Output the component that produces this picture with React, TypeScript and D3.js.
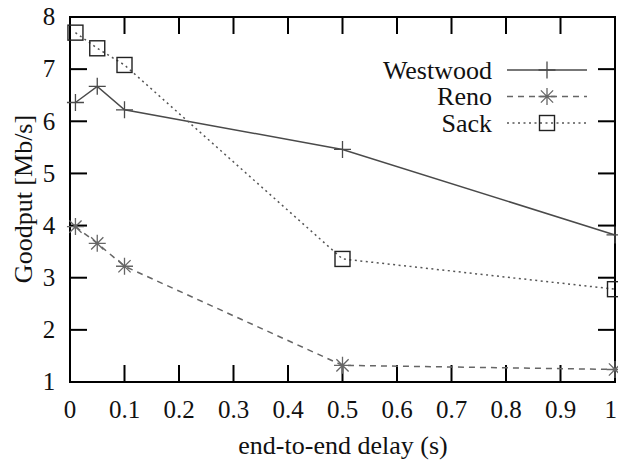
import React, { useRef, useEffect } from 'react';
import * as d3 from 'd3';

// delay (s) sampled for every protocol
const delays = [0.01, 0.05, 0.1, 0.5, 1.0];
const westwood = [6.36, 6.67, 6.22, 5.46, 3.82];
const reno = [3.98, 3.66, 3.22, 1.32, 1.24];
const sack = [7.7, 7.4, 7.08, 3.36, 2.78];

const xTicks = [0, 0.1, 0.2, 0.3, 0.4, 0.5, 0.6, 0.7, 0.8, 0.9, 1];
const yTicks = [1, 2, 3, 4, 5, 6, 7, 8];

const series = [
  { name: 'Westwood', values: westwood, marker: 'plus', dash: null, color: '#4a4a4a' },
  { name: 'Reno', values: reno, marker: 'star', dash: '6,5', color: '#666' },
  { name: 'Sack', values: sack, marker: 'square', dash: '2,3.5', color: '#555' },
];

function App() {
  const ref = useRef<SVGSVGElement>(null);

  const width = 618;
  const height = 461;
  const m = { left: 70, right: 3, top: 17, bottom: 79 };

  useEffect(() => {
    if (!ref.current) return;
    const svg = d3.select(ref.current);
    svg.selectAll('*').remove();

    const x = d3.scaleLinear().domain([0, 1]).range([m.left, width - m.right]);
    const y = d3.scaleLinear().domain([1, 8]).range([height - m.bottom, m.top]);
    const font = 'Liberation Serif';
    const tickLen = 17;

    const g = svg.append('g');

    const label = (tx: number, ty: number, str: string, size: number, anchor: string) =>
      g.append('text').attr('x', tx).attr('y', ty)
        .attr('font-family', font).attr('font-size', size)
        .attr('text-anchor', anchor).attr('fill', '#111')
        .text(str);

    // ticks, mirrored on all four sides, pointing inward
    xTicks.forEach(t => {
      g.append('line').attr('x1', x(t)).attr('x2', x(t))
        .attr('y1', y(1)).attr('y2', y(1) - tickLen)
        .attr('stroke', '#000').attr('stroke-width', 2);
      g.append('line').attr('x1', x(t)).attr('x2', x(t))
        .attr('y1', y(8)).attr('y2', y(8) + tickLen)
        .attr('stroke', '#000').attr('stroke-width', 2);
      label(t === 1 ? width - 1 : x(t), 418, String(t), 25, t === 1 ? 'end' : 'middle');
    });
    yTicks.forEach(t => {
      g.append('line').attr('x1', x(0)).attr('x2', x(0) + tickLen)
        .attr('y1', y(t)).attr('y2', y(t))
        .attr('stroke', '#000').attr('stroke-width', 2);
      g.append('line').attr('x1', x(1)).attr('x2', x(1) - tickLen)
        .attr('y1', y(t)).attr('y2', y(t))
        .attr('stroke', '#000').attr('stroke-width', 2);
      label(x(0) - 21, y(t), String(t), 25, 'middle').attr('dy', '0.33em');
    });

    g.append('rect')
      .attr('x', x(0)).attr('y', y(8))
      .attr('width', x(1) - x(0)).attr('height', y(1) - y(8))
      .attr('fill', 'none').attr('stroke', '#000').attr('stroke-width', 2);

    // axis titles
    label(343, 454, 'end-to-end delay (s)', 26, 'middle');
    label(0, 0, 'Goodput [Mb/s]', 26, 'middle')
      .attr('transform', 'translate(32, 199) rotate(-90)');

    const drawMarker = (sel: any, kind: string, cx: number, cy: number, color: string) => {
      if (kind === 'plus') {
        const s = 8.5;
        sel.append('path').attr('d', `M${cx - s},${cy}H${cx + s}M${cx},${cy - s}V${cy + s}`)
          .attr('stroke', color).attr('stroke-width', 1.3).attr('fill', 'none');
      } else if (kind === 'star') {
        const s = 8.5;
        const d = s * 0.72;
        sel.append('path')
          .attr('d', `M${cx - s},${cy}H${cx + s}M${cx},${cy - s}V${cy + s}` +
            `M${cx - d},${cy - d}L${cx + d},${cy + d}M${cx - d},${cy + d}L${cx + d},${cy - d}`)
          .attr('stroke', color).attr('stroke-width', 1.3).attr('fill', 'none');
      } else {
        const s = 7.5;
        sel.append('rect').attr('x', cx - s).attr('y', cy - s)
          .attr('width', 2 * s).attr('height', 2 * s)
          .attr('fill', 'none').attr('stroke', '#222').attr('stroke-width', 1.4);
      }
    };

    const line = d3.line<number>()
      .x((_, i) => x(delays[i]))
      .y(d => y(d));

    series.forEach(s => {
      const p = g.append('path').datum(s.values)
        .attr('d', line)
        .attr('fill', 'none')
        .attr('stroke', s.color)
        .attr('stroke-width', 1.5);
      if (s.dash) p.attr('stroke-dasharray', s.dash);
      s.values.forEach((v, i) => drawMarker(g, s.marker, x(delays[i]), y(v), s.color));
    });

    // legend
    series.forEach((s, i) => {
      const ly = 70 + i * 26.5;
      label(492, ly, s.name, 26, 'end').attr('dy', '0.33em');
      const l = g.append('line').attr('x1', 507).attr('x2', 587)
        .attr('y1', ly).attr('y2', ly)
        .attr('stroke', s.color).attr('stroke-width', 1.5);
      if (s.dash) l.attr('stroke-dasharray', s.dash);
      drawMarker(g, s.marker, 547, ly, s.color);
    });
  }, []);

  return (
    <svg
      ref={ref}
      width={width}
      height={height}
      style={{ position: 'absolute', left: 0, top: 0, background: '#fff' }}
    />
  );
}

export default App;
